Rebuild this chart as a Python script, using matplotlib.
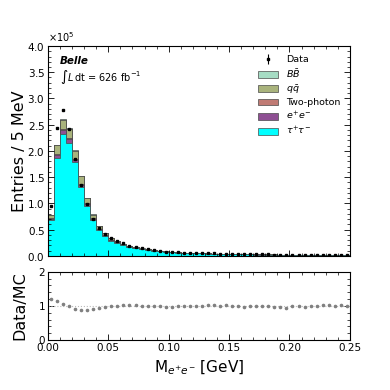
import matplotlib
matplotlib.use("Agg")
import matplotlib.pyplot as plt
import numpy as np
from matplotlib.ticker import MultipleLocator, ScalarFormatter

# bin edges: 5 MeV bins from 0 to 0.25 GeV
bin_edges = np.linspace(0.0, 0.25, 51)

# MC components, in units of 1e3 entries per bin
tau = [68, 187, 233, 216, 178, 131, 95, 68, 49, 37, 29, 25,
       20.5, 16.5, 14.0, 12.2, 10.7, 9.3, 8.3, 7.4, 6.7, 6.1, 5.6, 5.1,
       4.95, 4.55, 4.25, 3.95, 3.65, 3.45, 3.25, 3.05, 2.85, 2.65, 2.55, 2.45,
       2.25, 2.15, 2.05, 1.95, 1.85, 1.75, 1.65, 1.55, 1.55, 1.45, 1.35, 1.35,
       1.25, 1.25]
ee = [2.5, 5.5, 6.5, 6.5, 5.5, 5.0, 3.5, 2.5, 1.8, 1.4, 1.1, 0.9,
      0.7, 0.6, 0.5, 0.4, 0.35, 0.3, 0.27, 0.24, 0.22, 0.2, 0.18, 0.16] + [0.12] * 26
gg = [1.0, 2.0, 2.5, 2.5, 2.0, 1.8, 1.3, 1.0, 0.7, 0.5, 0.4, 0.35,
      0.3, 0.25, 0.2, 0.18, 0.15, 0.13, 0.12, 0.11, 0.1, 0.1, 0.1, 0.08] + [0.07] * 26
qq = [6.3, 16.2, 17.7, 17.7, 15.2, 13.9, 10.0, 7.3, 5.3, 4.0, 3.4, 2.65,
      1.9, 1.55, 1.2, 1.12, 0.9, 0.77, 0.61, 0.55, 0.48, 0.4, 0.32, 0.41] + [0.22] * 26
bb = [0.2, 0.3, 0.3, 0.3, 0.3, 0.3, 0.2, 0.2, 0.2, 0.1, 0.1, 0.1,
      0.1, 0.1, 0.1, 0.1, 0.1, 0.1, 0.1, 0.1, 0.1, 0.1, 0.1, 0.05] + [0.04] * 26

# data, in units of 1e3 entries per bin
data = [94.4, 243, 278, 241, 185, 135, 98, 71, 53, 41.3, 34, 29,
        24.2, 19.4, 16.3, 14.14, 12.32, 10.71, 9.4, 8.23, 7.45, 6.83, 6.3, 5.86,
        5.4, 5.0, 4.79, 4.49, 4.14, 4.06, 3.7, 3.54, 3.23, 3.13, 3.03, 2.9,
        2.67, 2.55, 2.45, 2.28, 2.32, 2.2, 2.06, 2.0, 2.0, 1.98, 1.84, 1.8,
        1.73, 1.7]

labels = [r"$\tau^{+}\tau^{-}$", r"$e^{+}e^{-}$", "Two-photon", r"$q\bar{q}$", r"$B\bar{B}$"]
colors = ["#00ffff", "#8e4f93", "#c07b74", "#a9b37c", "#a6dcc4"]

scale = 1e3
components = [np.array(c) * scale for c in (tau, ee, gg, qq, bb)]
data_counts = np.array(data) * scale
centers = 0.5 * (bin_edges[:-1] + bin_edges[1:])

fig = plt.figure(figsize=(3.9, 3.9), dpi=100)
ax = fig.add_axes([0.123, 0.344, 0.774, 0.538])
rax = fig.add_axes([0.123, 0.128, 0.774, 0.175], sharex=ax)

counts, _, patches = ax.hist([centers] * len(components), bins=bin_edges,
                             weights=components, stacked=True,
                             histtype="stepfilled", color=colors,
                             edgecolor="#4a4a4a", linewidth=0.5, label=labels)
handles = [p[0] for p in patches]
mc_total = counts[-1]

dh = ax.errorbar(centers, data_counts, yerr=np.sqrt(data_counts), fmt="s",
                 color="black", markersize=1.5, elinewidth=0.8, capsize=0, label="Data")

ax.set_xlim(0, 0.25)
ax.set_ylim(0, 4e5)
ax.set_ylabel("Entries / 5 MeV", fontsize=11.5)
fmt = ScalarFormatter(useMathText=True)
fmt.set_powerlimits((0, 0))
ax.yaxis.set_major_formatter(fmt)
ax.yaxis.get_offset_text().set_fontsize(7)
ax.yaxis.set_major_locator(MultipleLocator(0.5e5))
ax.yaxis.set_minor_locator(MultipleLocator(0.1e5))
ax.xaxis.set_minor_locator(MultipleLocator(0.01))
ax.xaxis.set_major_locator(MultipleLocator(0.05))
plt.setp(ax.get_xticklabels(), visible=False)

ax.text(0.04, 0.93, "Belle", transform=ax.transAxes, fontsize=7.5,
        fontweight="bold", fontstyle="italic", va="center")
ax.text(0.04, 0.85, r"$\int L\,$dt = 626 fb$^{-1}$", transform=ax.transAxes,
        fontsize=7, va="center")

order = [dh] + handles[::-1]
ax.legend(order, ["Data"] + labels[::-1], loc="upper right",
          frameon=False, fontsize=6.8, handlelength=2.2, handleheight=0.7,
          borderaxespad=0.6, labelspacing=0.28)

ratio = data_counts / mc_total
ratio_err = np.sqrt(data_counts) / mc_total
rax.axhline(1.0, color="#bbbbbb", linewidth=0.8, linestyle=":")
rax.errorbar(centers, ratio, yerr=ratio_err, fmt="o", color="gray",
             markersize=1.6, elinewidth=0.6, capsize=0)
rax.set_ylim(0, 2)
rax.yaxis.set_major_locator(MultipleLocator(1))
rax.yaxis.set_minor_locator(MultipleLocator(0.2))
rax.set_ylabel("Data/MC", fontsize=11.5)
rax.set_xlabel(r"M$_{e^{+}e^{-}}$ [GeV]", fontsize=11)
rax.xaxis.set_major_formatter(plt.FormatStrFormatter("%.2f"))

for a in (ax, rax):
    a.tick_params(which="both", direction="in", top=True, right=True,
                  labelsize=7.5, pad=2)
    a.tick_params(which="major", length=4, width=0.6)
    a.tick_params(which="minor", length=2, width=0.5)
    for s in a.spines.values():
        s.set_linewidth(0.8)
    a.yaxis.set_label_coords(-0.068, 0.5)

fig.savefig("out.png", dpi=100)
